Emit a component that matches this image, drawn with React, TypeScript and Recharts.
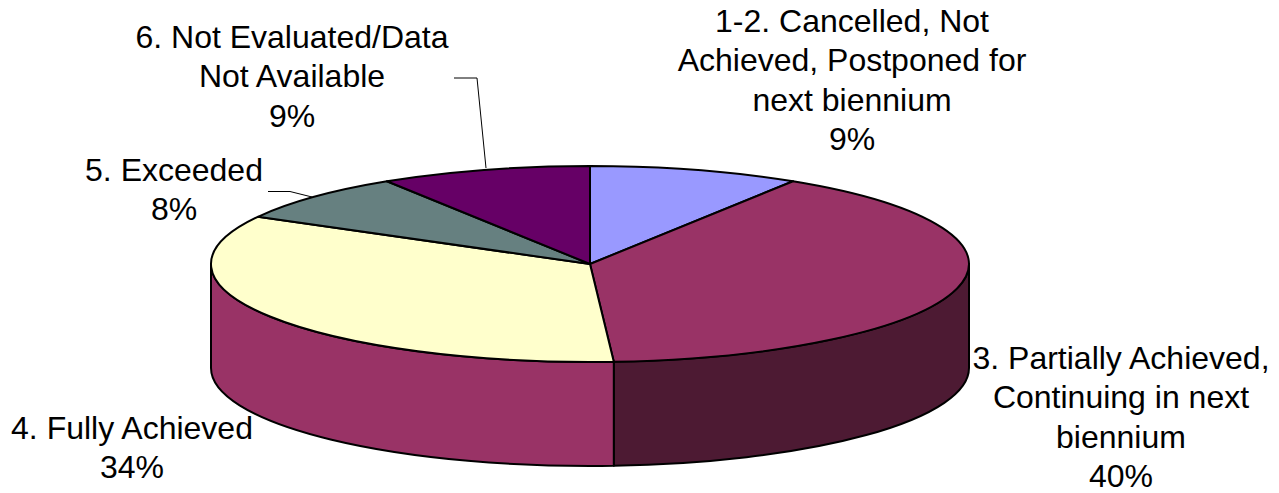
import { PieChart, Pie } from 'recharts';

const categories = [
  '1-2. Cancelled, Not Achieved, Postponed for next biennium',
  '3. Partially Achieved, Continuing in next biennium',
  '4. Fully Achieved',
  '5. Exceeded',
  '6. Not Evaluated/Data Not Available',
];
const shares = [9, 40, 34, 8, 9];
const topColors = ['#9999ff', '#993366', '#ffffcc', '#668080', '#660066'];
const wallColors = ['#4d4d80', '#4d1a33', '#993366', '#334040', '#330033'];

// wrapped label lines per slice, the percentage is appended as the last row
const labelLines = [
  ['1-2. Cancelled, Not', 'Achieved, Postponed for', 'next biennium'],
  ['3. Partially Achieved,', 'Continuing in next', 'biennium'],
  ['4. Fully Achieved'],
  ['5. Exceeded'],
  ['6. Not Evaluated/Data', 'Not Available'],
];
const labelAnchors = [
  { x: 852, y: 32 },
  { x: 1121, y: 369 },
  { x: 132, y: 439 },
  { x: 174, y: 181 },
  { x: 292, y: 48 },
];
const leaders = [
  null,
  null,
  null,
  'M268 191.5 L290 191.5 L312 197',
  'M454 78 L477 78 L486 168',
];

const TILT = 98 / 379;
const DEPTH = 104;
const LINE_HEIGHT = 39.3;

const pt = (cx: number, cy: number, rx: number, deg: number) => {
  const r = (deg * Math.PI) / 180;
  return [cx + rx * Math.cos(r), cy - rx * TILT * Math.sin(r)];
};

// Flattened slice: the top face plus the part of the rim facing the viewer
function Slice3D(props: any) {
  const { cx, cy, outerRadius: rx, startAngle, endAngle, index } = props;
  const ry = rx * TILT;
  const [sx, sy] = pt(cx, cy, rx, startAngle);
  const [ex, ey] = pt(cx, cy, rx, endAngle);
  const large = Math.abs(startAngle - endAngle) > 180 ? 1 : 0;
  const top = `M${cx} ${cy} L${sx} ${sy} A${rx} ${ry} 0 ${large} 1 ${ex} ${ey} Z`;

  // rim only exists on the front half, between 0 and -180 degrees
  const wallStart = Math.min(startAngle, 0);
  const wallEnd = Math.max(endAngle, -180);
  let wall = null;
  if (wallStart > wallEnd) {
    const [ax, ay] = pt(cx, cy, rx, wallStart);
    const [bx, by] = pt(cx, cy, rx, wallEnd);
    wall = `M${ax} ${ay} A${rx} ${ry} 0 0 1 ${bx} ${by} L${bx} ${by + DEPTH} A${rx} ${ry} 0 0 0 ${ax} ${ay + DEPTH} Z`;
  }
  return (
    <g>
      {wall && <path d={wall} fill={wallColors[index]} stroke="#000" strokeWidth={2} strokeLinejoin="round" />}
      <path d={top} fill={topColors[index]} stroke="#000" strokeWidth={2} strokeLinejoin="round" />
    </g>
  );
}

function SliceLabel(props: any) {
  const { index } = props;
  const anchor = labelAnchors[index];
  const rows = [...labelLines[index], `${shares[index]}%`];
  const leader = leaders[index];
  return (
    <g>
      {leader && <path d={leader} fill="none" stroke="#000" strokeWidth={1} />}
      <text textAnchor="middle" fontFamily="Liberation Sans, Arial, sans-serif" fontSize={32} fill="#000">
        {rows.map((row, i) => (
          <tspan key={row} x={anchor.x} y={anchor.y + i * LINE_HEIGHT}>
            {row}
          </tspan>
        ))}
      </text>
    </g>
  );
}

export default function App() {
  const data = categories.map((name, i) => ({ name, value: shares[i] }));
  return (
    <div style={{ position: 'absolute', left: 0, top: 0, background: '#fff' }}>
      <PieChart width={1279} height={493} margin={{ top: 0, right: 0, bottom: 0, left: 0 }}>
        <Pie
          data={data}
          dataKey="value"
          cx={590}
          cy={264}
          innerRadius={0}
          outerRadius={379}
          startAngle={90}
          endAngle={-270}
          isAnimationActive={false}
          shape={Slice3D}
          label={SliceLabel}
          labelLine={false}
        />
      </PieChart>
    </div>
  );
}
